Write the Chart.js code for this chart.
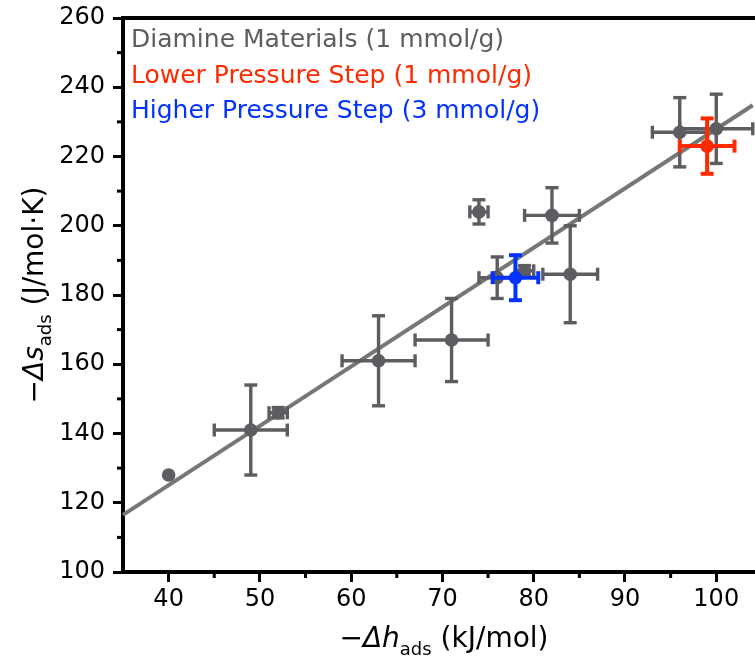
<!DOCTYPE html>
<html><head><meta charset="utf-8">
<script src="https://cdn.jsdelivr.net/npm/chart.js@4/dist/chart.umd.min.js"></script>
<style>html,body{margin:0;padding:0;background:#fff}#c{display:block}</style>
</head><body>
<canvas id="c" width="755" height="661"></canvas>
<script>
// ---- data ----
const diamineX    = [40, 49, 52, 63, 71, 74, 76, 79, 82, 84, 96, 100];
const diamineY    = [128, 141, 146, 161, 167, 204, 185, 187, 203, 186, 227, 228];
const diamineXErr = [0, 4, 1, 4, 4, 1, 2, 1, 3, 3, 3, 4];
const diamineYErr = [0, 13, 1.5, 13, 12, 3.5, 6, 1.5, 8, 14, 10, 10];
const lowerX    = [99];
const lowerY    = [223];
const lowerXErr = [3];
const lowerYErr = [8];
const higherX    = [78];
const higherY    = [185];
const higherXErr = [2.5];
const higherYErr = [6.5];
const fitX = [35, 104];
const fitY = [116.5, 234.8];
const xTicks = [40, 50, 60, 70, 80, 90, 100];
const xTickLabels = ['40', '50', '60', '70', '80', '90', '100'];
const xMinorTicks = [45, 55, 65, 75, 85, 95];
const yTicks = [100, 120, 140, 160, 180, 200, 220, 240, 260];
const yTickLabels = ['100', '120', '140', '160', '180', '200', '220', '240', '260'];
const yMinorTicks = [110, 130, 150, 170, 190, 210, 230, 250];
const legendLabels = ['Diamine Materials (1 mmol/g)', 'Lower Pressure Step (1 mmol/g)', 'Higher Pressure Step (3 mmol/g)'];

const GRAY = '#5d5c61', RED = '#ff2a00', BLUE = '#0433ff', LINE = '#777777';
const FONT = 'DejaVu Sans';

const toPts = (xs, ys) => xs.map((x, i) => ({x: x, y: ys[i]}));

const errorBarPlugin = {
  id: 'errbars',
  beforeDatasetDraw(chart, args) {
    const ds = chart.data.datasets[args.index];
    if (!ds.errX) return;
    const xs = chart.scales.x, ys = chart.scales.y, ctx = chart.ctx;
    const cap = 6.5;
    ctx.save();
    ctx.strokeStyle = ds.backgroundColor;
    ctx.lineWidth = ds.errWidth;
    const seg = (a, b, c, d) => { ctx.beginPath(); ctx.moveTo(a, b); ctx.lineTo(c, d); ctx.stroke(); };
    ds.data.forEach((p, i) => {
      const ex = ds.errX[i], ey = ds.errY[i];
      const cx = xs.getPixelForValue(p.x), cy = ys.getPixelForValue(p.y);
      if (ex > 0) {
        const l = xs.getPixelForValue(p.x - ex), r = xs.getPixelForValue(p.x + ex);
        seg(l, cy, r, cy); seg(l, cy - cap, l, cy + cap); seg(r, cy - cap, r, cy + cap);
      }
      if (ey > 0) {
        const t = ys.getPixelForValue(p.y + ey), b = ys.getPixelForValue(p.y - ey);
        seg(cx, t, cx, b); seg(cx - cap, t, cx + cap, t); seg(cx - cap, b, cx + cap, b);
      }
    });
    ctx.restore();
  }
};

const decorPlugin = {
  id: 'decor',
  afterDraw(chart) {
    const ctx = chart.ctx, a = chart.chartArea, xs = chart.scales.x, ys = chart.scales.y;
    ctx.save();
    // top frame line and bottom axis extension to the canvas edge
    ctx.strokeStyle = '#000'; ctx.lineWidth = 4;
    ctx.beginPath(); ctx.moveTo(a.left - 2, a.top); ctx.lineTo(chart.width, a.top); ctx.stroke();
    ctx.beginPath(); ctx.moveTo(a.right - 2, a.bottom); ctx.lineTo(chart.width, a.bottom); ctx.stroke();
    // minor ticks
    ctx.lineWidth = 3;
    xMinorTicks.forEach(v => { const px = xs.getPixelForValue(v); ctx.beginPath(); ctx.moveTo(px, a.bottom); ctx.lineTo(px, a.bottom + 6); ctx.stroke(); });
    yMinorTicks.forEach(v => { const py = ys.getPixelForValue(v); ctx.beginPath(); ctx.moveTo(a.left, py); ctx.lineTo(a.left - 6, py); ctx.stroke(); });
    // legend
    ctx.font = '25px "' + FONT + '"';
    ctx.textAlign = 'left'; ctx.textBaseline = 'alphabetic';
    const cols = [GRAY, RED, BLUE];
    const base = [47, 82.5, 117.5];
    legendLabels.forEach((t, i) => { ctx.fillStyle = cols[i]; ctx.fillText(t, a.left + 8, base[i]); });
    // axis titles built from parts
    const drawParts = (parts, cxPos) => {
      let w = 0;
      parts.forEach(p => { ctx.font = p.f; w += ctx.measureText(p.t).width; });
      let x = cxPos - w / 2;
      parts.forEach(p => { ctx.font = p.f; ctx.fillText(p.t, x, p.dy); x += ctx.measureText(p.t).width; });
    };
    ctx.fillStyle = '#000';
    const nf = '28px "' + FONT + '"', itf = 'italic 28px "' + FONT + '"', sf = '18px "' + FONT + '"';
    ctx.save();
    ctx.translate(0, 647);
    drawParts([{t: '\u2212', f: nf, dy: 0}, {t: '\u0394h', f: itf, dy: 0}, {t: 'ads', f: sf, dy: 8}, {t: ' (kJ/mol)', f: nf, dy: 0}], 444);
    ctx.restore();
    ctx.save();
    ctx.translate(43, 0);
    ctx.rotate(-Math.PI / 2);
    drawParts([{t: '\u2212', f: nf, dy: 0}, {t: '\u0394s', f: itf, dy: 0}, {t: 'ads', f: sf, dy: 8}, {t: ' (J/mol\u00b7K)', f: nf, dy: 0}], -295);
    ctx.restore();
    ctx.restore();
  }
};

const tickFont = {family: FONT, size: 24};

new Chart(document.getElementById('c'), {
  type: 'scatter',
  data: {
    datasets: [
      {label: legendLabels[2], data: toPts(higherX, higherY), errX: higherXErr, errY: higherYErr, errWidth: 4,
       backgroundColor: BLUE, borderWidth: 0, pointRadius: 6.8, order: 1},
      {label: legendLabels[1], data: toPts(lowerX, lowerY), errX: lowerXErr, errY: lowerYErr, errWidth: 4,
       backgroundColor: RED, borderWidth: 0, pointRadius: 6.8, order: 2},
      {label: legendLabels[0], data: toPts(diamineX, diamineY), errX: diamineXErr, errY: diamineYErr, errWidth: 3.4,
       backgroundColor: GRAY, borderWidth: 0, pointRadius: 6.8, order: 3, clip: false},
      {type: 'line', label: 'fit', data: toPts(fitX, fitY), borderColor: LINE, borderWidth: 4,
       pointRadius: 0, fill: false, order: 4, clip: false}
    ]
  },
  options: {
    responsive: false,
    animation: false,
    devicePixelRatio: 1,
    layout: {padding: {top: 18, right: 0, left: 0, bottom: 0}},
    plugins: {legend: {display: false}, tooltip: {enabled: false}},
    scales: {
      x: {
        type: 'linear', min: 35, max: 103.5,
        afterBuildTicks: s => { s.ticks = xTicks.map(v => ({value: v})); },
        afterFit: s => { s.height = 89; s.paddingLeft = 0; s.paddingRight = 0; },
        ticks: {font: tickFont, color: '#000', padding: 3, autoSkip: false, maxRotation: 0,
                callback: (v, i) => xTickLabels[i]},
        grid: {display: true, drawOnChartArea: false, drawTicks: true, tickLength: 10, tickWidth: 3, color: '#000'},
        border: {display: true, width: 4, color: '#000'}
      },
      y: {
        type: 'linear', min: 100, max: 260,
        afterBuildTicks: s => { s.ticks = yTicks.map(v => ({value: v})); },
        afterFit: s => { s.width = 123; s.paddingTop = 0; s.paddingBottom = 0; },
        ticks: {font: tickFont, color: '#000', padding: 8, autoSkip: false,
                callback: (v, i) => yTickLabels[i]},
        grid: {display: true, drawOnChartArea: false, drawTicks: true, tickLength: 10, tickWidth: 3, color: '#000'},
        border: {display: true, width: 4, color: '#000'}
      }
    }
  },
  plugins: [errorBarPlugin, decorPlugin]
});
</script>
</body></html>
